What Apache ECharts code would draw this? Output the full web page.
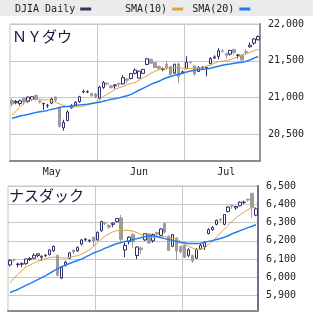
<!DOCTYPE html>
<html>
<head>
<meta charset="utf-8">
<script src="https://cdn.jsdelivr.net/npm/echarts@6/dist/echarts.min.js"></script>
<style>
html, body { margin: 0; padding: 0; background: #fff; }
#chart { width: 313px; height: 320px; }
</style>
</head>
<body>
<div id="chart"></div>
<script>
// trading days shown on both panels
var dates = [
    '2017-05-01','2017-05-02','2017-05-03','2017-05-04','2017-05-05','2017-05-08','2017-05-09','2017-05-10',
    '2017-05-11','2017-05-12','2017-05-15','2017-05-16','2017-05-17','2017-05-18','2017-05-19','2017-05-22',
    '2017-05-23','2017-05-24','2017-05-25','2017-05-26','2017-05-30','2017-05-31',
    '2017-06-01','2017-06-02','2017-06-05','2017-06-06','2017-06-07','2017-06-08','2017-06-09','2017-06-12',
    '2017-06-13','2017-06-14','2017-06-15','2017-06-16','2017-06-19','2017-06-20','2017-06-21','2017-06-22',
    '2017-06-23','2017-06-26','2017-06-27','2017-06-28','2017-06-29','2017-06-30',
    '2017-07-03','2017-07-05','2017-07-06','2017-07-07','2017-07-10','2017-07-11','2017-07-12','2017-07-13',
    '2017-07-14','2017-07-17','2017-07-18','2017-07-19','2017-07-20','2017-07-21','2017-07-24','2017-07-25',
    '2017-07-26','2017-07-27','2017-07-28'
];

// month tick labels and where they sit
var monthLabelDates = ['2017-05-15', '2017-06-15', '2017-07-18'];
var monthNames = { '05': 'May', '06': 'Jun', '07': 'Jul' };

// [open, close, low, high]
var djia = [
    [20962,20913,20880,20990],[20930,20949,20910,20968],[20920,20957,20890,20975],[20990,20945,20905,21005],
    [20950,21007,20930,21015],[20975,21012,20960,21020],[21030,20976,20960,21045],[20952,20943,20920,20962],
    [20915,20920,20834,20935],[20890,20897,20860,20915],[20925,20982,20910,21000],[21010,20965,20940,21020],
    [20860,20607,20595,20880],[20590,20663,20553,20700],[20690,20805,20680,20830],[20862,20895,20850,20910],
    [20900,20938,20890,20950],[20945,21012,20930,21025],[21078,21083,21060,21110],[21076,21080,21060,21100],
    [21055,21029,21010,21065],[21050,21009,20990,21065],
    [20995,21144,20975,21160],[21140,21206,21120,21225],[21195,21184,21165,21205],[21160,21136,21120,21175],
    [21160,21174,21120,21185],[21190,21183,21140,21210],[21186,21272,21180,21305],[21255,21236,21195,21265],
    [21260,21328,21250,21335],[21330,21375,21315,21395],[21265,21360,21255,21365],[21330,21384,21320,21390],
    [21450,21529,21440,21535],[21521,21467,21460,21530],[21476,21410,21400,21485],[21425,21397,21380,21435],
    [21385,21395,21360,21410],[21455,21410,21380,21500],[21420,21311,21300,21430],[21333,21455,21320,21460],
    [21458,21287,21197,21475],[21330,21350,21320,21370],
    [21392,21479,21390,21562],[21485,21478,21455,21500],[21430,21320,21300,21440],[21355,21414,21350,21425],
    [21400,21409,21380,21430],[21400,21409,21290,21420],[21460,21532,21455,21550],[21540,21553,21525,21575],
    [21560,21638,21520,21672],[21635,21630,21610,21660],[21600,21575,21530,21610],[21590,21641,21570,21650],
    [21655,21612,21580,21665],[21575,21580,21530,21590],[21577,21513,21480,21590],[21625,21613,21585,21660],
    [21690,21711,21680,21750],[21740,21797,21715,21810],[21785,21830,21780,21845]
];
var djiaSma10 = [
    20766,20813,20868,20922,20963,20977,20977,20977,20970,20970,20956,20936,20915,20895,20877,20875,
    20875,20877,20888,20902,20915,20936,20963,21018,21045,21079,21113,21134,21150,21174,21195,21204,
    21236,21270,21297,21331,21358,21379,21393,21399,21406,21406,21406,21399,21395,21399,21399,21406,
    21413,21427,21440,21468,21488,21495,21499,21515,21536,21556,21577,21597,21617,21638,21658
];
var djiaSma20 = [
    20721,20734,20752,20761,20772,20786,20800,20809,20817,20827,20841,20854,20868,20875,20881,20888,
    20895,20902,20906,20911,20920,20929,20939,20950,20963,20977,20986,20997,21011,21025,21045,21072,
    21100,21127,21154,21181,21202,21222,21249,21270,21286,21304,21318,21331,21349,21363,21372,21379,
    21386,21390,21399,21413,21427,21440,21450,21458,21468,21474,21481,21495,21512,21536,21559
];

var nasdaq = [
    [6068,6092,6060,6100],[6097,6095,6085,6102],[6070,6073,6055,6080],[6072,6075,6058,6082],
    [6075,6101,6068,6102],[6098,6103,6090,6110],[6105,6121,6100,6132],[6120,6129,6110,6132],
    [6110,6116,6090,6120],[6118,6121,6112,6126],[6125,6150,6120,6152],[6145,6170,6140,6175],
    [6120,6011,6005,6125],[5996,6055,5990,6060],[6065,6084,6060,6090],[6105,6134,6100,6140],
    [6150,6139,6125,6152],[6145,6163,6140,6170],[6182,6205,6175,6210],[6205,6210,6200,6215],
    [6200,6203,6190,6208],[6220,6199,6170,6222],
    [6205,6247,6200,6250],[6255,6306,6250,6310],[6300,6296,6285,6305],[6285,6275,6265,6290],
    [6290,6297,6275,6302],[6305,6322,6300,6325],[6325,6208,6190,6342],[6150,6175,6110,6190],
    [6195,6220,6180,6225],[6235,6195,6160,6240],[6120,6166,6100,6170],[6160,6152,6130,6170],
    [6205,6239,6200,6242],[6238,6188,6185,6242],[6200,6234,6190,6240],[6245,6237,6225,6250],
    [6230,6265,6228,6268],[6295,6247,6240,6300],[6225,6147,6145,6230],[6170,6234,6165,6238],
    [6215,6144,6095,6220],[6168,6140,6130,6172],
    [6175,6110,6105,6180],[6120,6151,6110,6160],[6120,6089,6080,6125],[6105,6153,6100,6160],
    [6155,6176,6150,6185],[6168,6193,6150,6198],[6240,6261,6235,6268],[6262,6274,6255,6280],
    [6290,6312,6285,6316],[6318,6314,6300,6325],[6290,6344,6285,6346],[6360,6385,6355,6390],
    [6392,6390,6375,6400],[6380,6388,6370,6392],[6392,6411,6388,6416],[6410,6412,6400,6420],
    [6428,6423,6415,6430],[6460,6382,6325,6461],[6340,6375,6335,6380]
];
var nasdaqSma10 = [
    5969,5997,6016,6035,6057,6067,6078,6087,6095,6103,6109,6111,6109,6107,6106,6109,
    6114,6119,6127,6138,6149,6168,6187,6209,6226,6239,6250,6256,6258,6258,6256,6253,
    6245,6234,6226,6219,6217,6220,6223,6223,6220,6215,6209,6198,6182,6171,6160,6153,
    6155,6161,6179,6198,6220,6242,6264,6286,6307,6327,6343,6357,6370,6384,6382
];
var nasdaqSma20 = [
    5917,5926,5934,5945,5956,5966,5977,5988,5999,6010,6022,6035,6048,6059,6067,6076,
    6084,6092,6100,6111,6122,6133,6141,6149,6160,6168,6177,6185,6190,6196,6201,6207,
    6212,6217,6223,6226,6226,6223,6217,6212,6207,6201,6196,6191,6189,6186,6186,6186,
    6187,6191,6197,6201,6207,6213,6220,6228,6239,6247,6256,6264,6272,6280,6288
];

var upColor = '#2e2e6c';
var downColor = '#9c9c9c';
var sma10Color = '#e0a23c';
var sma20Color = '#1f7cf2';
var gridColor = '#c8c8c8';
var monoFont = '"DejaVu Sans Mono", monospace';

function monthStart(idx) {
    return idx > 0 && dates[idx].slice(5, 7) !== dates[idx - 1].slice(5, 7);
}

function commas(v) {
    return String(v).replace(/\B(?=(\d{3})+(?!\d))/g, ',');
}

function xAxisFor(gridIndex, showLabels) {
    return {
        type: 'category',
        gridIndex: gridIndex,
        data: dates,
        boundaryGap: true,
        axisLine: { show: true, onZero: false, lineStyle: { color: '#8c8c8c', width: 2 } },
        axisTick: { show: false },
        axisLabel: {
            show: showLabels,
            interval: function (idx, val) { return monthLabelDates.indexOf(val) >= 0; },
            formatter: function (val) { return monthNames[val.slice(5, 7)]; },
            margin: 6,
            color: '#222',
            fontFamily: monoFont,
            fontSize: 10
        },
        splitLine: {
            show: true,
            interval: function (idx) { return monthStart(idx); },
            lineStyle: { color: gridColor, width: 1 }
        }
    };
}

function yAxisFor(gridIndex, min, max, splitNumber, step, edgeColor) {
    return {
        type: 'value',
        gridIndex: gridIndex,
        position: 'right',
        min: min,
        max: max,
        splitNumber: splitNumber,
        axisLine: { show: true, lineStyle: { color: edgeColor, width: 2 } },
        axisTick: { show: false },
        axisLabel: {
            margin: 8,
            color: '#222',
            fontFamily: monoFont,
            fontSize: 10,
            formatter: function (v) { return v % step === 0 ? commas(v) : ''; }
        },
        splitLine: { show: true, lineStyle: { color: gridColor, width: 1 } }
    };
}

function candles(name, idx, data) {
    return {
        name: name,
        type: 'candlestick',
        xAxisIndex: idx,
        yAxisIndex: idx,
        data: data,
        barWidth: 3,
        itemStyle: {
            color: '#ffffff',
            color0: downColor,
            borderColor: upColor,
            borderColor0: downColor,
            borderWidth: 1
        }
    };
}

function smaLine(name, idx, data, color, width) {
    return {
        name: name,
        type: 'line',
        xAxisIndex: idx,
        yAxisIndex: idx,
        data: data,
        showSymbol: false,
        symbol: 'none',
        color: color,
        lineStyle: { color: color, width: width }
    };
}

var chart = echarts.init(document.getElementById('chart'));

var legendText = { fontFamily: monoFont, fontSize: 10, color: '#222' };

chart.setOption({
    animation: false,
    backgroundColor: '#ffffff',
    graphic: [{
        type: 'rect',
        left: 0,
        top: 0,
        z: 0,
        shape: { width: 313, height: 16 },
        style: { fill: '#ebebeb' }
    }],
    title: [
        { text: 'ＮＹダウ', left: 12, top: 29, padding: 0,
          textStyle: { fontFamily: '"Noto Sans CJK JP"', fontSize: 15, fontWeight: 'normal', color: '#16163a' } },
        { text: 'ナスダック', left: 9, top: 188, padding: 0,
          textStyle: { fontFamily: '"Noto Sans CJK JP"', fontSize: 15, fontWeight: 'normal', color: '#16163a' } }
    ],
    legend: [
        { left: 15, top: 4, padding: 0, align: 'right', itemWidth: 11, itemHeight: 3, selectedMode: false,
          textStyle: legendText,
          data: [{ name: 'DJIA Daily', icon: 'rect', itemStyle: { color: '#333366', borderWidth: 0 } }] },
        { left: 125, top: 4, padding: 0, align: 'right', itemWidth: 11, itemHeight: 3, itemGap: 9, selectedMode: false,
          textStyle: legendText,
          data: [
              { name: 'SMA(10)', icon: 'rect', itemStyle: { color: sma10Color, borderWidth: 0 } },
              { name: 'SMA(20)', icon: 'rect', itemStyle: { color: sma20Color, borderWidth: 0 } }
          ] }
    ],
    grid: [
        { left: 10, top: 24, width: 250, height: 137, show: true, borderColor: '#c4c4c4', borderWidth: 1,
          backgroundColor: '#ffffff', containLabel: false, outerBoundsMode: 'none' },
        { left: 8, top: 186, width: 250, height: 125, show: true, borderColor: '#c4c4c4', borderWidth: 1,
          backgroundColor: '#ffffff', containLabel: false, outerBoundsMode: 'none' }
    ],
    xAxis: [xAxisFor(0, true), xAxisFor(1, false)],
    yAxis: [
        yAxisFor(0, 20140, 22000, 4, 500, '#949494'),
        yAxisFor(1, 5816, 6500, 7, 100, '#6e7090')
    ],
    series: [
        candles('DJIA Daily', 0, djia),
        smaLine('SMA(10)', 0, djiaSma10, sma10Color, 1),
        smaLine('SMA(20)', 0, djiaSma20, sma20Color, 1.5),
        candles('NASDAQ Daily', 1, nasdaq),
        smaLine('SMA(10)', 1, nasdaqSma10, sma10Color, 1),
        smaLine('SMA(20)', 1, nasdaqSma20, sma20Color, 1.5)
    ]
});
</script>
</body>
</html>
